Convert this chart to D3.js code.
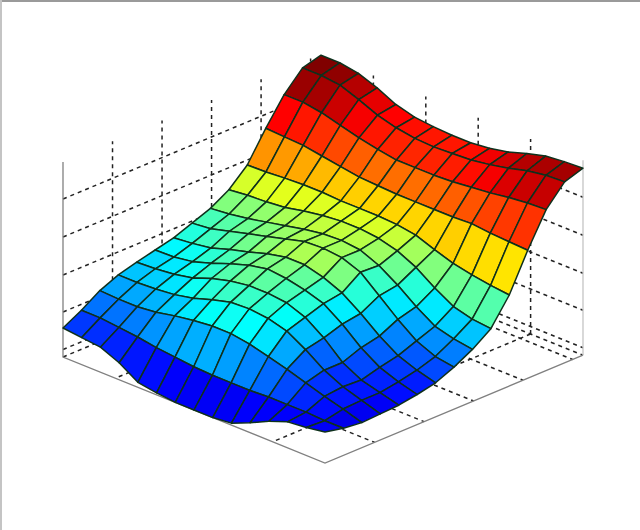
<!DOCTYPE html>
<html><head><meta charset="utf-8">
<style>html,body{margin:0;padding:0;background:#fff}svg{display:block}</style>
<script src="https://cdn.jsdelivr.net/npm/d3@7/dist/d3.min.js"></script>
</head><body>
<svg id="c" width="640" height="530"></svg>
<script>
// surface heights: rows run from the front-left edge (row 0) to the back-right edge (row 14)
const row00=[29,27,25,17,5,2,0,0,0,2,10,19,26,28,31];
const row01=[39,39,37,35,32,30,28,27,27,27,28,28,28,27,27];
const row02=[51,50,50,52,56,59,61,61,58,53,48,42,36,31,25];
const row03=[59,59,60,62,66,72,77,78,76,71,60,47,38,32,26];
const row04=[64,65,67,71,78,83,86,86,84,77,64,47,37,32,27];
const row05=[68.5,69,72,78,85,91,95,93,89,83,70,54,42,35,30];
const row06=[73,75,78,84,89,95,99,99,94,86,73,58,46,39,34];
const row07=[80,82,87,92,97,102,107,108,106,99,83,67,53,45,42];
const row08=[87,89,92,96,100,104,107,108,106,98,86,72,60,55,52];
const row09=[98,100,101,103,107,110,112,112,110,105,96,83,72,67,65];
const row10=[115,115.6,117,118,118,117,117,117,116,113,106,100,96,93,91];
const row11=[144,143,142,139,136,133,132,131,131,131,131,132,130,129,128];
const row12=[170,170,167,162,157,153,150,150,150,151,153,155,158,160,161];
const row13=[189,189,187,180,172,167,164,163,164,165,168,172,177,180,181];
const row14=[194,194,191,184,175,170,168,167,167,169,173,179,184,186,187];
const rows=[row00,row01,row02,row03,row04,row05,row06,row07,row08,row09,row10,row11,row12,row13,row14];
const xTicks=[0,1,2,3,4,5];
const yTicks=[0,1,2,3,4,5];
const zTicks=[7.5,45,82,120,158];
const xMax=5, yMax=5.21, zMin=0, zMax=195;

const pxX=d3.scaleLinear([0,xMax],[0,262]), pyX=d3.scaleLinear([0,xMax],[0,106]);
const pxY=d3.scaleLinear([0,yMax],[0,258]), pyY=d3.scaleLinear([0,yMax],[0,-107.8]);
const pyZ=d3.scaleLinear([zMin,zMax],[0,-195]);
const project=(x,y,z)=>[63+pxX(x)+pxY(y),357+pyX(x)+pyY(y)+pyZ(z)];
const gx=d3.scaleLinear([0,14],[0,xMax]), gy=d3.scaleLinear([0,14],[0,yMax]);

const jet=t=>{const c=v=>Math.round(255*Math.max(0,Math.min(1,v)));
  return `rgb(${c(1.5-Math.abs(4*t-3))},${c(1.5-Math.abs(4*t-2))},${c(1.5-Math.abs(4*t-1))})`;};
const color=d3.scaleLinear([5,194],[0,1]);

const svg=d3.select('#c');
const f=svg.append('defs').append('filter').attr('id','soft').attr('filterUnits','userSpaceOnUse')
  .attr('x',0).attr('y',0).attr('width',640).attr('height',530);
f.append('feGaussianBlur').attr('stdDeviation',0.7);
svg.append('rect').attr('x',0).attr('y',0).attr('width',640).attr('height',2).attr('fill','#9a9a9a');
svg.append('rect').attr('x',0).attr('y',0).attr('width',2).attr('height',530).attr('fill','#c4c4c4');
const root=svg.append('g').attr('filter','url(#soft)');
const line=d3.line();
const grid=root.append('g').attr('fill','none');
const dash=(a,b)=>grid.append('path').attr('d',line([a,b])).attr('stroke','#222').attr('stroke-width',1.5).attr('stroke-dasharray','4 4');
zTicks.forEach(z=>{dash(project(0,0,z),project(0,yMax,z));dash(project(0,yMax,z),project(xMax,yMax,z));});
yTicks.slice(1).forEach(y=>dash(project(0,y,zMin),project(0,y,zMax)));
xTicks.slice(1,5).forEach(x=>dash(project(x,yMax,zMin),project(x,yMax,zMax)));
xTicks.slice(1,5).forEach(x=>dash(project(x,yMax,zMin),project(x,0,zMin)));
yTicks.slice(1).forEach(y=>dash(project(0,y,zMin),project(xMax,y,zMin)));
dash(project(0,0,zMin),project(0,yMax,zMin));
dash(project(0,yMax,zMin),project(xMax,yMax,zMin));
const solid=(pts,c)=>grid.append('path').attr('d',line(pts)).attr('stroke',c).attr('stroke-width',1.3);
solid([project(0,0,zMax),project(0,0,zMin),project(xMax,0,zMin),project(xMax,yMax,zMin)],'#808080');
solid([project(xMax,yMax,zMin),project(xMax,yMax,zMax)],'#c4c4c4');

const faces=[];
for(let j=13;j>=0;j--)for(let i=0;i<14;i++)faces.push({i,j});
root.append('g').selectAll('path').data(faces).join('path')
 .attr('d',({i,j})=>line([
   project(gx(i),gy(j),rows[j][i]),project(gx(i+1),gy(j),rows[j][i+1]),
   project(gx(i+1),gy(j+1),rows[j+1][i+1]),project(gx(i),gy(j+1),rows[j+1][i])])+'Z')
 .attr('fill',({i,j})=>jet(color(rows[j+1][i+1])))
 .attr('stroke','#10301c').attr('stroke-width',1.5).attr('stroke-linejoin','round');
</script></body></html>
